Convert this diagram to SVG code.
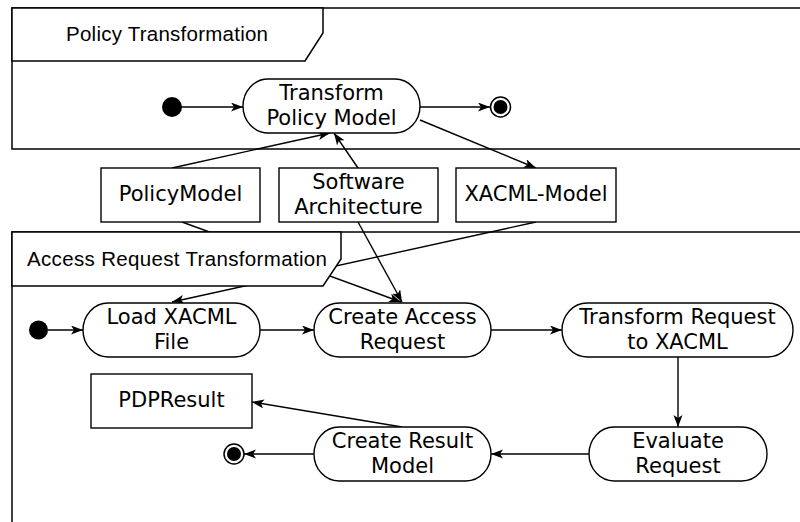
<svg xmlns="http://www.w3.org/2000/svg" width="800" height="522" viewBox="0 0 800 522">
<style>
.frame{fill:none;stroke:#000;stroke-width:1.5}
.tab{fill:#fff;stroke:#000;stroke-width:1.5}
.ttl{font-family:"Liberation Sans",Arial,sans-serif;font-size:20.5px;fill:#000}
.act{fill:#fff;stroke:#000;stroke-width:1.4}
.obj{fill:#fff;stroke:#000;stroke-width:1.4}
.lbl{font-family:"DejaVu Sans",Verdana,sans-serif;font-size:21px;fill:#000;text-anchor:middle}
.edge{fill:none;stroke:#000;stroke-width:1.4;marker-end:url(#arr)}
</style>
<defs>
<marker id="arr" markerWidth="14" markerHeight="10" refX="12" refY="4.5" orient="auto" markerUnits="userSpaceOnUse">
<path d="M0,0 L12,4.5 L0,9 L3,4.5 z" fill="#000"/>
</marker>
</defs>
<rect width="800" height="522" fill="#fff"/>
<g id="frame-policy-body"><rect class="frame" x="12" y="8" width="800" height="141"/></g>
<g id="frame-access-body"><rect class="frame" x="12" y="232" width="800" height="300"/></g>
<g id="connectors">
<line class="edge" x1="181" y1="107" x2="243" y2="107"/>
<line class="edge" x1="420" y1="107" x2="490" y2="107"/>
<line class="edge" x1="172" y1="168" x2="330" y2="133"/>
<line class="edge" x1="358" y1="168" x2="334" y2="133"/>
<line class="edge" x1="420" y1="120" x2="536" y2="168"/>
<line class="edge" x1="182" y1="222" x2="401" y2="302"/>
<line class="edge" x1="358" y1="222" x2="402" y2="302"/>
<line class="edge" x1="536" y1="222" x2="172" y2="302"/>
<line class="edge" x1="48" y1="330" x2="83" y2="330"/>
<line class="edge" x1="260" y1="330" x2="314" y2="330"/>
<line class="edge" x1="491" y1="330" x2="562" y2="330"/>
<line class="edge" x1="678" y1="357" x2="678" y2="427"/>
<line class="edge" x1="589" y1="454" x2="491" y2="454"/>
<line class="edge" x1="314" y1="454" x2="244" y2="454"/>
<line class="edge" x1="402" y1="427" x2="252" y2="402"/>
</g>
<g id="frame-policy-tab">
<polygon class="tab" points="12,8 323,8 323,33 305,61 12,61"/>
<text class="ttl" x="66" y="41" textLength="202">Policy Transformation</text>
</g>
<g id="frame-access-tab">
<polygon class="tab" points="12,232 341,232 341,259 323,286 12,286"/>
<text class="ttl" x="27" y="266" textLength="300">Access Request Transformation</text>
</g>
<g id="init1"><circle cx="172" cy="107" r="10" fill="#000"/></g>
<g id="final1"><circle cx="500.5" cy="107" r="10" fill="#fff" stroke="#000" stroke-width="1.5"/><circle cx="500.5" cy="107" r="7" fill="#000"/></g>
<g id="transform-policy-model">
<rect class="act" x="243" y="79" width="177" height="54" rx="25" ry="27"/>
<text class="lbl" x="331.5" y="100">Transform</text>
<text class="lbl" x="331.5" y="124.5">Policy Model</text>
</g>
<g id="policy-model">
<rect class="obj" x="101" y="168" width="159" height="54"/>
<text class="lbl" x="180.5" y="201">PolicyModel</text>
</g>
<g id="software-architecture">
<rect class="obj" x="279" y="168" width="159" height="54"/>
<text class="lbl" x="358.5" y="189">Software</text>
<text class="lbl" x="358.5" y="213.5">Architecture</text>
</g>
<g id="xacml-model">
<rect class="obj" x="456" y="168" width="160" height="54"/>
<text class="lbl" x="536" y="201">XACML-Model</text>
</g>
<g id="init2"><circle cx="38.5" cy="330" r="9.5" fill="#000"/></g>
<g id="load-xacml">
<rect class="act" x="83" y="303" width="177" height="54" rx="25" ry="27"/>
<text class="lbl" x="171.5" y="324">Load XACML</text>
<text class="lbl" x="171.5" y="348.5">File</text>
</g>
<g id="create-access-request">
<rect class="act" x="314" y="303" width="177" height="54" rx="25" ry="27"/>
<text class="lbl" x="402.5" y="324">Create Access</text>
<text class="lbl" x="402.5" y="348.5">Request</text>
</g>
<g id="transform-request">
<rect class="act" x="562" y="303" width="231" height="54" rx="25" ry="27"/>
<text class="lbl" x="677.5" y="324">Transform Request</text>
<text class="lbl" x="677.5" y="348.5">to XACML</text>
</g>
<g id="pdp-result">
<rect class="obj" x="91" y="374" width="161" height="54"/>
<text class="lbl" x="171.5" y="407">PDPResult</text>
</g>
<g id="final2"><circle cx="234" cy="454" r="10" fill="#fff" stroke="#000" stroke-width="1.5"/><circle cx="234" cy="454" r="7" fill="#000"/></g>
<g id="create-result-model">
<rect class="act" x="314" y="427" width="177" height="54" rx="25" ry="27"/>
<text class="lbl" x="402.5" y="448">Create Result</text>
<text class="lbl" x="402.5" y="472.5">Model</text>
</g>
<g id="evaluate-request">
<rect class="act" x="589" y="427" width="178" height="54" rx="25" ry="27"/>
<text class="lbl" x="678" y="448">Evaluate</text>
<text class="lbl" x="678" y="472.5">Request</text>
</g>
</svg>
